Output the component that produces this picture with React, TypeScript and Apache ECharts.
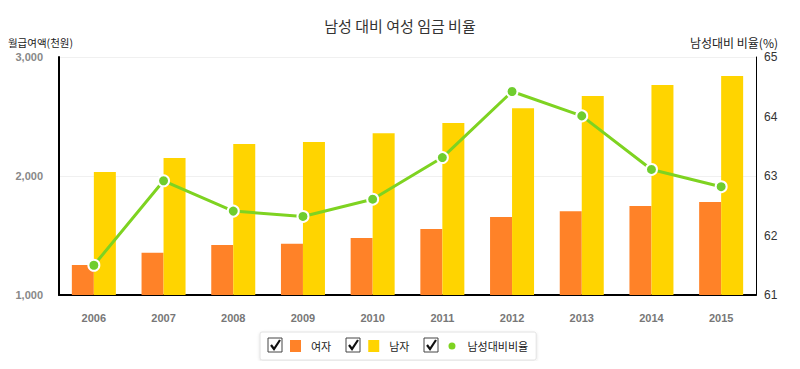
import React, { useEffect, useRef } from "react";
import * as echarts from "echarts";

const years = ["2006", "2007", "2008", "2009", "2010", "2011", "2012", "2013", "2014", "2015"];
const female = [1252, 1355, 1420, 1431, 1479, 1555, 1655, 1703, 1748, 1781];
const male = [2034, 2151, 2269, 2286, 2359, 2445, 2569, 2672, 2765, 2840];
const ratio = [61.5, 62.92, 62.41, 62.32, 62.61, 63.31, 64.42, 64.01, 63.11, 62.82];
const seriesNames = ["여자", "남자", "남성대비비율"];

const KR = '"Noto Sans CJK KR", "Noto Sans", sans-serif';
const NUM = '"Liberation Sans", Arial, sans-serif';

function checkbox(x: number, y: number) {
  return [
    {
      type: "rect",
      x,
      y,
      z: 100,
      silent: true,
      shape: { x: 0, y: 0, width: 14, height: 14 },
      style: { fill: "#fff", stroke: "#444", lineWidth: 1 },
    },
    {
      type: "polyline",
      x,
      y,
      z: 101,
      silent: true,
      shape: { points: [[3, 7], [6, 11], [12, 2]] },
      style: { stroke: "#111", lineWidth: 2.2, fill: null },
    },
  ];
}

export default function App() {
  const ref = useRef<HTMLDivElement>(null);
  useEffect(() => {
    if (!ref.current) return;
    const chart = echarts.init(ref.current, undefined, { renderer: "svg" });
    chart.setOption({
      animation: false,
      backgroundColor: "#fff",
      title: {
        text: "남성 대비 여성 임금 비율",
        left: "center",
        top: 13,
        textStyle: { fontFamily: KR, fontSize: 15, fontWeight: "normal", color: "#333" },
      },
      grid: { left: 59, right: 44, top: 57, bottom: 74, outerBoundsMode: "none", containLabel: false },
      legend: {
        left: 260,
        top: 332,
        padding: [8, 8, 8, 30],
        itemGap: 37,
        itemWidth: 11,
        itemHeight: 12,
        borderColor: "#e2e2e2",
        borderWidth: 1,
        borderRadius: 2,
        shadowBlur: 3,
        shadowColor: "rgba(0,0,0,0.12)",
        shadowOffsetY: 1,
        backgroundColor: "#fff",
        selectedMode: false,
        z: 4,
        textStyle: { fontFamily: KR, fontSize: 11, color: "#222", padding: [0, 0, 0, 5] },
        data: [
          { name: seriesNames[0], icon: "rect" },
          { name: seriesNames[1], icon: "rect" },
          {
            name: seriesNames[2],
            icon: "path://M0,0M11,12M2,6A3.5,3.5,0,1,1,9,6A3.5,3.5,0,1,1,2,6Z",
            itemStyle: { color: "#7ed321", borderWidth: 0 },
          },
        ],
      },
      xAxis: {
        type: "category",
        data: years,
        axisLine: { show: true, lineStyle: { color: "#000", width: 2 } },
        axisTick: { show: false },
        axisLabel: { color: "#777", fontFamily: NUM, fontWeight: "bold", fontSize: 11, margin: 17 },
        splitLine: { show: false },
      },
      yAxis: [
        {
          type: "value",
          min: 1000,
          max: 3000,
          interval: 1000,
          name: "월급여액(천원)",
          nameLocation: "end",
          nameGap: 9,
          nameTextStyle: { fontFamily: KR, fontSize: 10.5, color: "#222", align: "right", padding: [0, -14, 0, 0] },
          axisLine: { show: true, lineStyle: { color: "#000", width: 2 } },
          axisTick: { show: false },
          axisLabel: {
            color: "#888",
            fontFamily: NUM,
            fontWeight: "bold",
            fontSize: 11,
            margin: 16,
            formatter: (v: number) => v.toLocaleString("en-US"),
          },
          splitLine: { show: true, lineStyle: { color: "#f0f0f0", width: 1 } },
        },
        {
          type: "value",
          min: 61,
          max: 65,
          interval: 1,
          name: "남성대비 비율(%)",
          nameLocation: "end",
          nameGap: 9,
          nameTextStyle: { fontFamily: KR, fontSize: 12, color: "#222", align: "right", padding: [0, -22, 0, 0] },
          axisLine: { show: true, lineStyle: { color: "#000", width: 1 } },
          axisTick: { show: false },
          axisLabel: { color: "#333", fontFamily: NUM, fontSize: 12, margin: 8 },
          splitLine: { show: false },
        },
      ],
      series: [
        {
          name: seriesNames[0],
          type: "bar",
          data: female,
          barWidth: 22,
          barGap: "0%",
          itemStyle: { color: "#ff8228" },
        },
        {
          name: seriesNames[1],
          type: "bar",
          data: male,
          barWidth: 22,
          barGap: "0%",
          itemStyle: { color: "#ffd400" },
        },
        {
          name: seriesNames[2],
          type: "line",
          yAxisIndex: 1,
          data: ratio,
          symbol: "circle",
          symbolSize: 11,
          z: 5,
          lineStyle: { color: "#7ed321", width: 3 },
          itemStyle: { color: "#6fcd2e", borderColor: "#fff", borderWidth: 2 },
        },
      ],
      graphic: {
        elements: [...checkbox(268, 338), ...checkbox(346, 338), ...checkbox(424, 338)],
      },
    });
    return () => chart.dispose();
  }, []);
  return <div ref={ref} style={{ width: 800, height: 369, margin: -8 }} />;
}
